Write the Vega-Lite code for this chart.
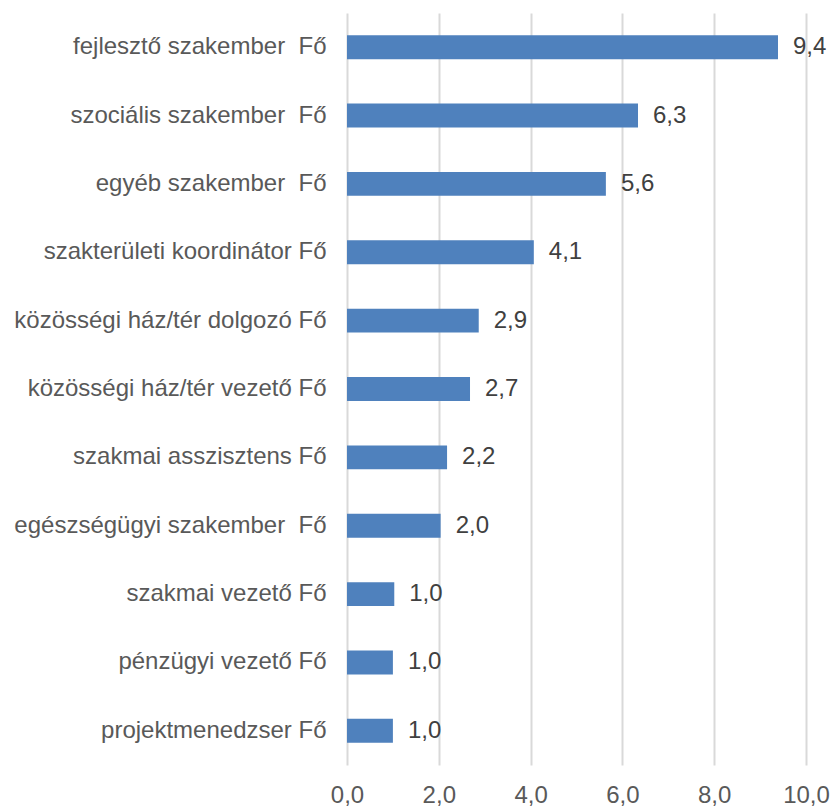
{
  "$schema": "https://vega.github.io/schema/vega-lite/v6.json",
  "autosize": {"type": "none"},
  "padding": {"left": 347, "top": 13, "right": 26, "bottom": 42},
  "width": 459,
  "height": 752,
  "config": {
    "locale": {"number": {"decimal": ",", "thousands": " ", "grouping": [3], "currency": ["", ""]}},
    "view": {"stroke": null},
    "font": "Liberation Sans"
  },
  "data": {
    "values": [
      {"category": "fejlesztő szakember\u00a0 Fő", "value": 9.39},
      {"category": "szociális szakember\u00a0 Fő", "value": 6.34},
      {"category": "egyéb szakember\u00a0 Fő", "value": 5.64},
      {"category": "szakterületi koordinátor Fő", "value": 4.07},
      {"category": "közösségi ház/tér dolgozó Fő", "value": 2.87},
      {"category": "közösségi ház/tér vezető Fő", "value": 2.68},
      {"category": "szakmai asszisztens Fő", "value": 2.18},
      {"category": "egészségügyi szakember\u00a0 Fő", "value": 2.04},
      {"category": "szakmai vezető Fő", "value": 1.03},
      {"category": "pénzügyi vezető Fő", "value": 1.0},
      {"category": "projektmenedzser Fő", "value": 1.0}
    ]
  },
  "encoding": {
    "y": {
      "field": "category",
      "type": "nominal",
      "sort": null,
      "title": null,
      "scale": {"paddingInner": 0.65, "paddingOuter": 0.325},
      "axis": {
        "domain": false,
        "ticks": false,
        "grid": false,
        "labelPadding": 21,
        "labelFontSize": 24,
        "labelColor": "#595959",
        "labelFont": "Liberation Sans",
        "labelLimit": 400
      }
    },
    "x": {
      "field": "value",
      "type": "quantitative",
      "title": null,
      "scale": {"domain": [0, 10], "nice": false},
      "axis": {
        "values": [0, 2, 4, 6, 8, 10],
        "format": ".1f",
        "domain": false,
        "ticks": false,
        "grid": true,
        "gridColor": "#d9d9d9",
        "gridWidth": 2,
        "labelPadding": 18,
        "labelFontSize": 24,
        "labelColor": "#595959",
        "labelFont": "Liberation Sans",
        "labelFlush": false
      }
    }
  },
  "layer": [
    {"mark": {"type": "bar", "color": "#4f81bd"}},
    {
      "mark": {"type": "text", "align": "left", "baseline": "middle", "dx": 15, "fontSize": 24, "color": "#404040", "font": "Liberation Sans"},
      "encoding": {"text": {"field": "value", "type": "quantitative", "format": ".1f"}}
    }
  ]
}
